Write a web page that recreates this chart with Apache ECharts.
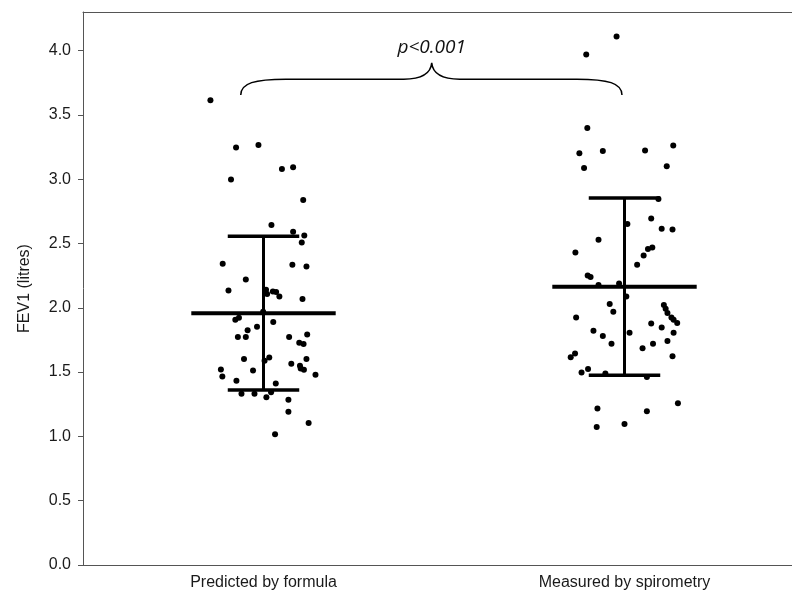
<!DOCTYPE html>
<html><head><meta charset="utf-8">
<script src="https://cdn.jsdelivr.net/npm/echarts@6/dist/echarts.min.js"></script>
<style>html,body{margin:0;padding:0;background:#fff;overflow:hidden;width:792px;height:592px}#c{width:805px;height:592px}</style>
</head><body><div id="c"></div>
<script>
const categories = ['Predicted by formula', 'Measured by spirometry'];
const yAxisName = 'FEV1 (litres)';
const pText = 'p<0.001';

// horizontal jitter (in category units) and FEV1 values
const predictedJitter = [-0.147,-0.076,-0.014,0.051,0.082,-0.090,0.110,0.022,0.082,0.113,0.106,-0.113,0.080,0.119,-0.049,-0.097,0.007,0.010,0.026,0.035,0.044,0.108,-0.001,-0.078,-0.068,0.027,-0.018,-0.044,0.121,-0.071,-0.049,0.071,0.099,0.111,-0.054,0.016,0.003,0.119,-0.118,-0.114,-0.029,0.077,0.101,0.103,0.112,0.144,-0.075,0.034,-0.061,-0.025,0.021,0.008,0.069,0.069,0.125,0.032];
const predictedValues = [3.613,3.246,3.266,3.079,3.092,2.998,2.838,2.644,2.591,2.563,2.508,2.342,2.335,2.321,2.220,2.135,2.140,2.107,2.127,2.122,2.088,2.068,1.969,1.907,1.922,1.889,1.852,1.826,1.792,1.772,1.772,1.772,1.728,1.718,1.601,1.613,1.588,1.601,1.520,1.465,1.512,1.564,1.549,1.528,1.518,1.479,1.432,1.411,1.331,1.331,1.344,1.305,1.284,1.191,1.105,1.017];
const measuredJitter = [-0.022,-0.106,-0.103,-0.125,-0.060,0.057,0.135,-0.112,0.117,0.094,0.008,0.074,0.103,0.133,-0.072,-0.136,0.077,0.065,0.053,0.035,-0.102,-0.094,-0.072,-0.015,0.005,-0.041,-0.031,-0.134,0.109,0.114,0.119,0.130,0.136,0.146,-0.086,-0.060,0.014,0.074,0.103,0.136,-0.036,0.119,0.079,0.050,0.133,-0.137,-0.149,-0.101,-0.119,-0.053,0.062,0.148,-0.075,0.062,-0.077,0.000];
const measuredValues = [4.109,3.969,3.398,3.201,3.219,3.224,3.261,3.087,3.100,2.846,2.651,2.695,2.615,2.609,2.529,2.430,2.469,2.457,2.407,2.335,2.251,2.239,2.177,2.189,2.088,2.029,1.969,1.925,2.021,1.992,1.959,1.925,1.907,1.881,1.821,1.780,1.805,1.878,1.847,1.805,1.720,1.741,1.720,1.686,1.624,1.644,1.616,1.525,1.497,1.489,1.461,1.258,1.216,1.196,1.074,1.097];

const groupMeans = [1.958, 2.164];
const groupSD = [0.598, 0.689];

// brace annotation anchors (data units)
const braceLeftX = -0.063, braceRightX = 0.993, braceCuspX = 0.466;
const braceEndY = 3.655, braceBarY = 3.778, braceCuspY = 3.905, pTextY = 4.025;

const predictedData = predictedValues.map((v, i) => [0 + predictedJitter[i], v]);
const measuredData = measuredValues.map((v, i) => [1 + measuredJitter[i], v]);
const errData = groupMeans.map((m, i) => [i, m, groupSD[i]]);

const chart = echarts.init(document.getElementById('c'), null, {renderer: 'canvas'});
const axisColor = '#555';
const txtFont = 'Liberation Sans, Arial, sans-serif';

chart.setOption({
  animation: false,
  backgroundColor: '#fff',
  grid: {left: 83, right: 0, top: 12, bottom: 27},
  xAxis: [
    {type: 'value', min: -0.5, max: 1.5, show: false},
    {type: 'category', data: categories, position: 'bottom',
     axisLine: {onZero: false, lineStyle: {color: axisColor, width: 1}},
     axisTick: {alignWithLabel: true, inside: true, length: 3, lineStyle: {color: axisColor}},
     axisLabel: {fontSize: 16, color: '#1a1a1a', margin: 10, fontFamily: txtFont}},
    {type: 'category', data: categories, position: 'top',
     axisLine: {onZero: false, lineStyle: {color: axisColor, width: 1}},
     axisTick: {alignWithLabel: true, inside: true, length: 3, lineStyle: {color: axisColor}},
     axisLabel: {show: false}}
  ],
  yAxis: {
    type: 'value', min: 0, max: 4.3, interval: 0.5,
    name: yAxisName, nameLocation: 'middle', nameGap: 50,
    nameTextStyle: {fontSize: 16, color: '#1a1a1a', fontFamily: txtFont},
    axisLine: {show: true, onZero: false, lineStyle: {color: axisColor, width: 1}},
    axisTick: {show: true, length: 5, lineStyle: {color: axisColor}},
    axisLabel: {fontSize: 16, color: '#1a1a1a', margin: 12, fontFamily: txtFont,
      showMaxLabel: false, formatter: v => (v <= 4.01 ? v.toFixed(1) : '')},
    splitLine: {show: false}
  },
  series: [
    {type: 'custom', xAxisIndex: 0, data: errData, z: 2,
     renderItem: function (params, api) {
       const x = api.value(0), m = api.value(1), sd = api.value(2);
       const c = api.coord([x, m]);
       const t = api.coord([x, m + sd]);
       const b = api.coord([x, m - sd]);
       const halfCap = api.size([0.099, 0])[0];
       const halfMean = api.size([0.2, 0])[0];
       return {type: 'group', children: [
         {type: 'line', shape: {x1: c[0], y1: t[1], x2: c[0], y2: b[1]}, style: {stroke: '#000', lineWidth: 3}},
         {type: 'line', shape: {x1: c[0] - halfCap, y1: t[1], x2: c[0] + halfCap, y2: t[1]}, style: {stroke: '#000', lineWidth: 3.5}},
         {type: 'line', shape: {x1: c[0] - halfCap, y1: b[1], x2: c[0] + halfCap, y2: b[1]}, style: {stroke: '#000', lineWidth: 3.5}},
         {type: 'line', shape: {x1: c[0] - halfMean, y1: c[1], x2: c[0] + halfMean, y2: c[1]}, style: {stroke: '#000', lineWidth: 4}}
       ]};
     }},
    {type: 'scatter', xAxisIndex: 0, data: predictedData, symbolSize: 6,
     itemStyle: {color: '#000', opacity: 1}, z: 3},
    {type: 'scatter', xAxisIndex: 0, data: measuredData, symbolSize: 6,
     itemStyle: {color: '#000', opacity: 1}, z: 3},
    {type: 'custom', xAxisIndex: 0, data: [[braceCuspX, braceCuspY]], z: 4,
     renderItem: function (params, api) {
       const L = api.coord([braceLeftX, braceEndY]);
       const R = api.coord([braceRightX, braceEndY]);
       const C = api.coord([braceCuspX, braceCuspY]);
       const by = api.coord([braceCuspX, braceBarY])[1];
       const tp = api.coord([braceCuspX, pTextY]);
       const d = 'M' + L[0] + ',' + L[1] +
         ' C' + L[0] + ',' + (by + 4) + ' ' + (L[0] + 14) + ',' + by + ' ' + (L[0] + 45) + ',' + by +
         ' L' + (C[0] - 28) + ',' + by +
         ' C' + (C[0] - 12) + ',' + by + ' ' + (C[0] - 1) + ',' + (by - 4) + ' ' + C[0] + ',' + C[1] +
         ' C' + (C[0] + 1) + ',' + (by - 4) + ' ' + (C[0] + 12) + ',' + by + ' ' + (C[0] + 28) + ',' + by +
         ' L' + (R[0] - 45) + ',' + by +
         ' C' + (R[0] - 14) + ',' + by + ' ' + R[0] + ',' + (by + 4) + ' ' + R[0] + ',' + R[1];
       return {type: 'group', children: [
         {type: 'path', shape: {pathData: d}, style: {fill: null, stroke: '#000', lineWidth: 1.5}},
         {type: 'text', x: tp[0], y: tp[1], style: {text: pText, fill: '#111', fontSize: 19,
           fontStyle: 'italic', fontFamily: 'Open Sans, Liberation Sans, sans-serif', align: 'center', verticalAlign: 'middle'}}
       ]};
     }}
  ]
});
</script></body></html>
